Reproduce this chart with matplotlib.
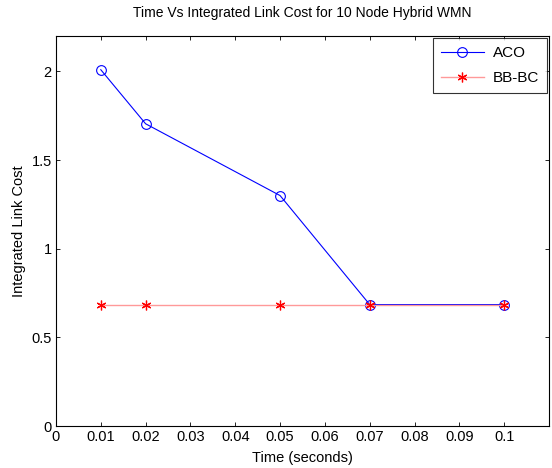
import matplotlib
matplotlib.use("Agg")
import matplotlib.pyplot as plt

plt.rcParams['font.family'] = ['Liberation Sans', 'DejaVu Sans']

time = [0.01, 0.02, 0.05, 0.07, 0.1]
aco = [2.01, 1.705, 1.30, 0.685, 0.685]
bbbc = [0.685, 0.685, 0.685, 0.685, 0.685]
xticks = [0, 0.01, 0.02, 0.03, 0.04, 0.05, 0.06, 0.07, 0.08, 0.09, 0.1]
xticklabels = ['0', '0.01', '0.02', '0.03', '0.04', '0.05', '0.06', '0.07', '0.08', '0.09', '0.1']
yticks = [0, 0.5, 1, 1.5, 2]
yticklabels = ['0', '0.5', '1', '1.5', '2']

fig = plt.figure(figsize=(5.52, 4.68), dpi=100)
ax = fig.add_axes([0.1014, 0.0897, 0.8932, 0.8333])

ax.plot(time, aco, color='#0000ff', linewidth=0.8, marker='o', markersize=7,
        markerfacecolor='none', markeredgecolor='#0000ff', markeredgewidth=0.8, label='ACO')
ax.plot(time, bbbc, color='#ff9999', linewidth=1.0, marker=(6, 2, 0), markersize=7,
        markeredgecolor='#ff0000', markeredgewidth=0.9, label='BB-BC')

ax.set_xlim(0, 0.11)
ax.set_ylim(0, 2.2)
ax.set_xticks(xticks)
ax.set_xticklabels(xticklabels)
ax.set_yticks(yticks)
ax.set_yticklabels(yticklabels)
ax.tick_params(direction='in', top=True, right=True, length=3, width=0.6, labelsize=10.5, pad=3)
for s in ax.spines.values():
    s.set_linewidth(0.8)

ax.set_title('Time Vs Integrated Link Cost for 10 Node Hybrid WMN', fontsize=10, pad=14)
ax.set_xlabel('Time (seconds)', fontsize=10.5, labelpad=5)
ax.set_ylabel('Integrated Link Cost', fontsize=10.5, labelpad=4)

leg = ax.legend(loc='upper right', fontsize=11, frameon=True, fancybox=False,
                edgecolor='black', borderaxespad=0.15, handlelength=2.8,
                labelspacing=0.75, borderpad=0.5, handletextpad=0.6)
leg.get_frame().set_linewidth(0.8)

fig.savefig('out.png', dpi=100)
